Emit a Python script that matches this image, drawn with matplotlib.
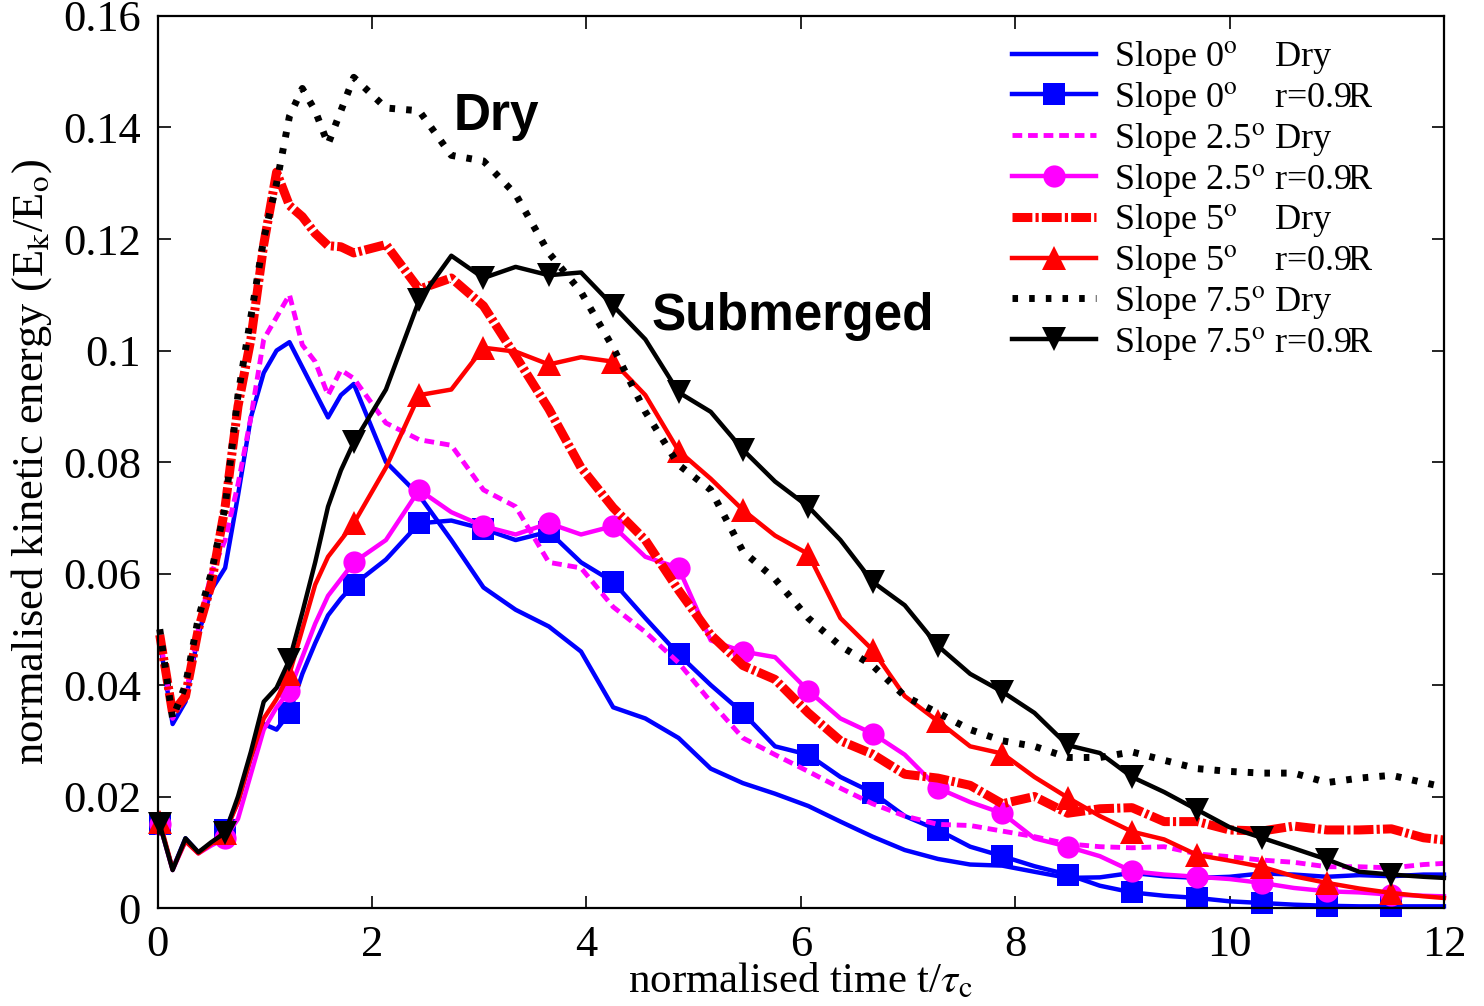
import matplotlib
matplotlib.use("Agg")
import matplotlib.pyplot as plt
from matplotlib.ticker import FuncFormatter

plt.rcParams["font.family"] = ["Liberation Serif", "DejaVu Serif"]
plt.rcParams["mathtext.fontset"] = "stix"

# normalised time t/tau_c
t = [0.02, 0.14, 0.26, 0.38, 0.50, 0.63, 0.75, 0.87, 0.99, 1.11, 1.23, 1.35, 1.47, 1.59, 1.71, 1.83,
     2.13, 2.44, 2.74, 3.04, 3.34, 3.65, 3.95, 4.25, 4.55, 4.86, 5.16, 5.46, 5.76, 6.07, 6.37, 6.67,
     6.97, 7.28, 7.58, 7.88, 8.18, 8.49, 8.79, 9.09, 9.39, 9.70, 10.00, 10.30, 10.60, 10.91, 11.21,
     11.51, 11.81, 12.0]
marker_idx = [0, 5, 10, 15] + list(range(17, 48, 2))

slope0_dry = [0.048, 0.033, 0.037, 0.049, 0.057, 0.061, 0.074, 0.088, 0.096, 0.100, 0.1015, 0.097,
              0.0925, 0.088, 0.092, 0.094, 0.080, 0.074, 0.066, 0.0575, 0.0535, 0.0505, 0.046, 0.036,
              0.034, 0.0305, 0.025, 0.0224, 0.0205, 0.0183, 0.0155, 0.0128, 0.0104, 0.0088, 0.0078,
              0.0076, 0.0065, 0.0054, 0.0055, 0.0063, 0.0057, 0.0054, 0.0056, 0.0062, 0.006, 0.0056,
              0.0059, 0.0057, 0.006, 0.006]
slope0_sub = [0.015, 0.007, 0.0125, 0.0100, 0.0115, 0.014, 0.019, 0.027, 0.033, 0.032, 0.035, 0.042,
              0.0475, 0.0525, 0.0555, 0.058, 0.0625, 0.069, 0.0695, 0.068, 0.066, 0.0675, 0.062, 0.0585,
              0.052, 0.0455, 0.040, 0.035, 0.029, 0.0275, 0.0235, 0.0207, 0.0165, 0.014, 0.011, 0.0093,
              0.0075, 0.006, 0.004, 0.0028, 0.0022, 0.0018, 0.0012, 0.0009, 0.0006, 0.0004, 0.0003,
              0.0003, 0.0003, 0.0003]
slope25_dry = [0.049, 0.034, 0.038, 0.050, 0.060, 0.066, 0.076, 0.088, 0.102, 0.106, 0.110, 0.101,
               0.098, 0.092, 0.0965, 0.095, 0.087, 0.084, 0.083, 0.075, 0.072, 0.062, 0.061, 0.054,
               0.0495, 0.044, 0.037, 0.0305, 0.0275, 0.0245, 0.0215, 0.0187, 0.0165, 0.015, 0.0148,
               0.0138, 0.0128, 0.0115, 0.011, 0.0108, 0.011, 0.0097, 0.0092, 0.0086, 0.0082, 0.0074,
               0.0074, 0.0072, 0.0078, 0.008]
slope25_sub = [0.015, 0.0068, 0.012, 0.0098, 0.0112, 0.0125, 0.016, 0.024, 0.032, 0.036, 0.039, 0.045,
               0.051, 0.056, 0.059, 0.062, 0.066, 0.075, 0.071, 0.0685, 0.067, 0.069, 0.067, 0.0685,
               0.063, 0.061, 0.048, 0.046, 0.045, 0.039, 0.034, 0.0313, 0.0275, 0.0215, 0.019, 0.017,
               0.0125, 0.011, 0.0093, 0.0066, 0.006, 0.0056, 0.0052, 0.0045, 0.0036, 0.003, 0.0028,
               0.0024, 0.0022, 0.0021]
slope5_dry = [0.049, 0.035, 0.038, 0.050, 0.058, 0.072, 0.090, 0.102, 0.119, 0.132, 0.126, 0.124,
              0.121, 0.1188, 0.1186, 0.1175, 0.119, 0.111, 0.113, 0.108, 0.099, 0.0895, 0.079, 0.0718,
              0.066, 0.057, 0.049, 0.0435, 0.041, 0.035, 0.030, 0.0276, 0.024, 0.0233, 0.022, 0.0187,
              0.020, 0.017, 0.0178, 0.018, 0.0155, 0.0155, 0.014, 0.0138, 0.0147, 0.014, 0.014, 0.0142,
              0.0126, 0.0122]
slope5_sub = [0.0155, 0.007, 0.012, 0.0098, 0.0115, 0.0135, 0.019, 0.027, 0.034, 0.0375, 0.042, 0.050,
              0.058, 0.063, 0.066, 0.069, 0.079, 0.092, 0.093, 0.1005, 0.0998, 0.0975, 0.0988, 0.098,
              0.092, 0.082, 0.077, 0.0714, 0.0668, 0.0635, 0.052, 0.0463, 0.038, 0.0335, 0.029, 0.0277,
              0.0235, 0.0198, 0.0165, 0.0137, 0.0123, 0.0095, 0.0085, 0.0074, 0.0057, 0.0045, 0.0035,
              0.0027, 0.0021, 0.0018]
slope75_dry = [0.050, 0.034, 0.040, 0.052, 0.060, 0.072, 0.092, 0.106, 0.120, 0.130, 0.142, 0.147,
               0.143, 0.137, 0.143, 0.149, 0.1435, 0.143, 0.135, 0.134, 0.128, 0.1175, 0.1105, 0.1005,
               0.089, 0.0795, 0.075, 0.064, 0.059, 0.052, 0.047, 0.0435, 0.038, 0.035, 0.032, 0.030,
               0.029, 0.027, 0.027, 0.028, 0.0265, 0.025, 0.0245, 0.0242, 0.0242, 0.0225, 0.0233,
               0.0238, 0.0225, 0.0217]
slope75_sub = [0.015, 0.0068, 0.0125, 0.010, 0.0118, 0.0135, 0.020, 0.028, 0.037, 0.0395, 0.0445, 0.053,
               0.062, 0.072, 0.0785, 0.0835, 0.093, 0.109, 0.117, 0.113, 0.115, 0.1135, 0.114, 0.108,
               0.102, 0.0925, 0.089, 0.0822, 0.0765, 0.072, 0.066, 0.0585, 0.0543, 0.047, 0.042, 0.0388,
               0.035, 0.0292, 0.0278, 0.0235, 0.0208, 0.0176, 0.0145, 0.0126, 0.0107, 0.0087, 0.0065,
               0.006, 0.0056, 0.0054]

deg = r"$^{\mathrm{o}}$"
series = [
    (slope0_dry, f"Slope 0{deg}    Dry", dict(color="#0000ff", lw=3.2, ls="-")),
    (slope0_sub, f"Slope 0{deg}    r=0.9R", dict(color="#0000ff", lw=3.2, ls="-", marker="s", ms=16)),
    (slope25_dry, f"Slope 2.5{deg} Dry", dict(color="#ff00ff", lw=3.5, ls=(0, (2.0, 1.2)))),
    (slope25_sub, f"Slope 2.5{deg} r=0.9R", dict(color="#ff00ff", lw=3.2, ls="-", marker="o", ms=16)),
    (slope5_dry, f"Slope 5{deg}    Dry", dict(color="#ff0000", lw=6.5, ls=(0, (2.2, 0.35, 0.35, 0.35)))),
    (slope5_sub, f"Slope 5{deg}    r=0.9R", dict(color="#ff0000", lw=3.2, ls="-", marker="^", ms=17)),
    (slope75_dry, f"Slope 7.5{deg} Dry", dict(color="black", lw=5, ls=(0, (0.8, 1.6)))),
    (slope75_sub, f"Slope 7.5{deg} r=0.9R", dict(color="black", lw=3.2, ls="-", marker="v", ms=17)),
]

fig = plt.figure(figsize=(14.84, 10.06), dpi=100)
ax = fig.add_axes([0.1062, 0.0974, 0.8668, 0.8867])

for y, label, style in series:
    if "marker" in style:
        ax.plot(t, y, label=label, markevery=marker_idx, mew=0, clip_on=False, **style)
    else:
        ax.plot(t, y, label=label, clip_on=False, **style)

ax.set_xlim(0, 12)
ax.set_ylim(0, 0.16)
ax.set_xticks(range(0, 13, 2))
ax.set_yticks([0, 0.02, 0.04, 0.06, 0.08, 0.1, 0.12, 0.14, 0.16])
ax.yaxis.set_major_formatter(FuncFormatter(lambda v, p: f"{v:g}"))
ax.tick_params(direction="in", length=9, width=1.2, top=True, right=True,
               labelsize=32, pad=12)
for sp in ax.spines.values():
    sp.set_linewidth(1.6)

ax.set_xlabel(r"normalised time t/$\tau_{\mathrm{c}}$", fontsize=31, labelpad=-2)
ax.set_ylabel(r"normalised kinetic energy (E$_{\mathrm{k}}$/E$_{\mathrm{o}}$)", fontsize=32, labelpad=6)

ax.text(3.16, 0.1396, "Dry", fontsize=37, fontweight="bold", family="Liberation Sans",
        ha="center", va="baseline")
ax.text(5.93, 0.1037, "Submerged", fontsize=37, fontweight="bold", family="Liberation Sans",
        ha="center", va="baseline")

ax.legend(loc="upper left", bbox_to_anchor=(0.664, 0.974), frameon=False, fontsize=26,
          handlelength=2.33, handletextpad=0.5, labelspacing=0.105, borderpad=0, borderaxespad=0)

fig.savefig("out.png", dpi=100)
